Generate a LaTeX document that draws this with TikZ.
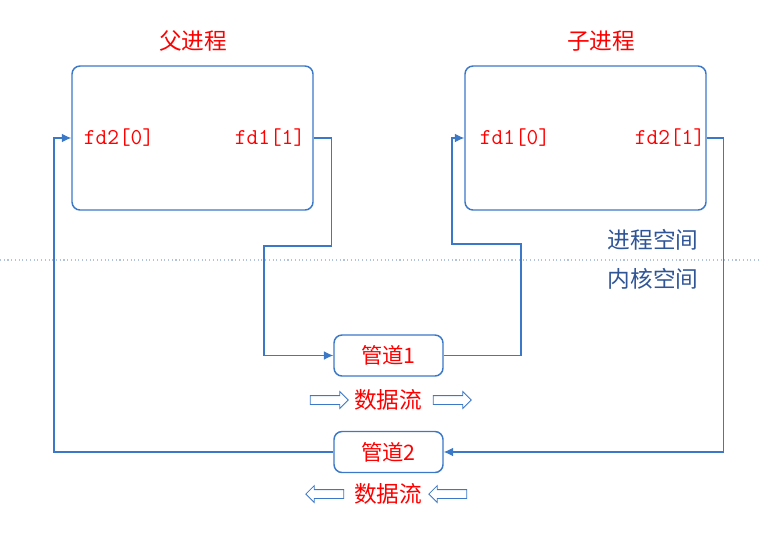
\documentclass[tikz,border=0pt]{standalone}
\usepackage{fontspec}
\newfontfamily\cjk{Noto Sans CJK SC}
\usetikzlibrary{shapes.arrows,arrows.meta}
\definecolor{lineblue}{RGB}{60,120,200}
\definecolor{textblue}{RGB}{47,85,151}
\definecolor{dotgray}{RGB}{180,195,220}
\begin{document}
\begin{tikzpicture}[x=0.75pt,y=-0.75pt,
  proc/.style={draw=lineblue,line width=1.1pt,rounded corners=6pt,minimum width=180.75pt,minimum height=108pt},
  pipe/.style={draw=lineblue,line width=1.1pt,rounded corners=6pt,minimum width=81.75pt,minimum height=30.75pt,text=red,font=\cjk\fontsize{16}{16}\selectfont},
  title/.style={text=red,font=\cjk\fontsize{17}{17}\selectfont},
  fd/.style={text=red,font=\ttfamily\fontsize{17}{17}\selectfont,inner sep=0pt},
  space/.style={text=textblue,font=\cjk\fontsize{17}{17}\selectfont},
  flow/.style={draw=lineblue,line width=0.8pt,>={Latex[length=7pt,width=6.5pt]},->},
  hollow/.style={single arrow,draw=lineblue,fill=white,line width=0.6pt,minimum height=28.5pt,minimum width=12pt,inner sep=3pt,single arrow head extend=3pt,shape border rotate=#1}]
\useasboundingbox (0,0) rectangle (759,536);

%boundary
\draw [dotgray,dotted,line width=0.8pt] (0,260) -- (759,260);
\node [space] (user) at (653,240) {进程空间};
\node [space] (kernel) at (653,279) {内核空间};

%parent
\node [proc] (parent) at (192.5,138) {};
\node [title] (ptitle) at (193,41) {父进程};
\node [fd] (fd20) at (119,138) {fd2[0]};
\node [fd] (fd11) at (270,138) {fd1[1]};

%child
\node [proc] (child) at (585.5,138) {};
\node [title] (ctitle) at (601,41) {子进程};
\node [fd] (fd10) at (515,138) {fd1[0]};
\node [fd] (fd21) at (670,138) {fd2[1]};

%pipes
\node [pipe] (pipe1) at (388.5,355.5) {管道1};
\node [pipe] (pipe2) at (388.5,452) {管道2};
\node [title] (flow1) at (388,400) {数据流};
\node [title] (flow2) at (388,494) {数据流};
\node [hollow=0] (r1) at (327,400) {};
\node [hollow=0] (r2) at (450,400) {};
\node [hollow=180] (l1) at (327,494) {};
\node [hollow=180] (l2) at (450,494) {};

%links
\coordinate (k1) at (264,246);
\coordinate (k2) at (521,244);
\coordinate (k3) at (452,138);
\coordinate (k4) at (54,138);
\draw [flow] (parent.east |- fd11) -- ++(18,0) |- (k1) |- (pipe1.west);
\draw [flow] (pipe1.east) -| (k2) -| (k3) -- (child.west |- fd10);
\draw [flow] (child.east |- fd21) -- ++(17,0) |- (pipe2.east);
\draw [flow] (pipe2.west) -| (k4) -- (parent.west |- fd20);
\end{tikzpicture}
\end{document}
